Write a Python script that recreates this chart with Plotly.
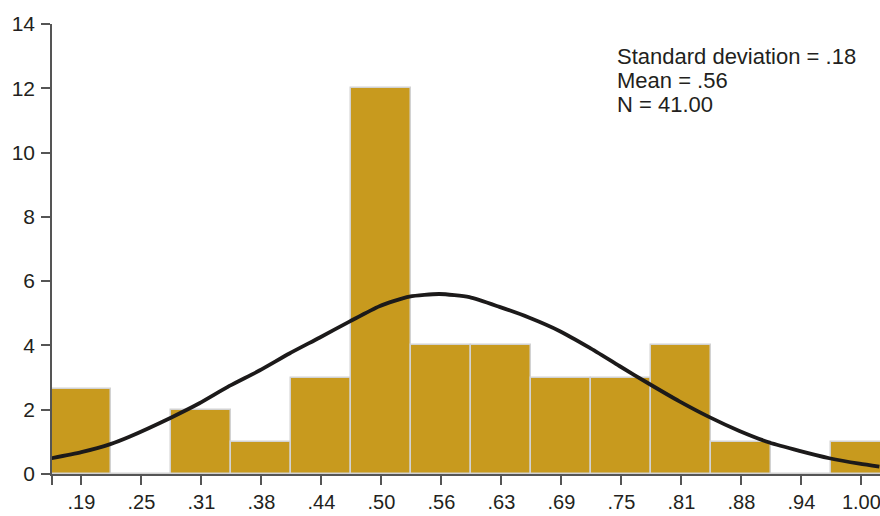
import plotly.graph_objects as go

# Histogram bins (tick labels) and counts
bin_labels = [".19", ".25", ".31", ".38", ".44", ".50", ".56", ".63", ".69", ".75", ".81", ".88", ".94", "1.00"]
counts = [2.66, 0, 2, 1, 3, 12, 4, 4, 3, 3, 4, 1, 0, 1]

# Fitted normal curve (x in bin-index units)
curve_x = [-0.5, 0.0, 0.483, 0.8, 1.5, 1.967, 2.467, 2.967, 3.467, 3.967, 4.467, 4.967,
           5.467, 5.967, 6.467, 6.967, 7.467, 7.967, 8.467, 8.967, 9.467, 9.967,
           10.467, 10.967, 11.467, 11.967, 12.467, 12.967, 13.3]
curve_y = [0.49, 0.68, 0.93, 1.16, 1.76, 2.2, 2.74, 3.22, 3.75, 4.24, 4.74, 5.22,
           5.52, 5.6, 5.5, 5.2, 4.86, 4.45, 3.93, 3.36, 2.8, 2.26,
           1.77, 1.34, 0.98, 0.72, 0.49, 0.32, 0.23]

stats_lines = ["Standard deviation = .18", "Mean = .56", "N = 41.00"]

y_ticks = [0, 2, 4, 6, 8, 10, 12, 14]

FONT = "Liberation Sans, Arial, Helvetica, sans-serif"
TXT = "#231f20"
AX = "#555555"

positions = list(range(len(bin_labels)))

fig = go.Figure()
fig.add_trace(go.Bar(
    x=positions, y=counts, width=1.0,
    marker=dict(color="#C89A1E", line=dict(color="#d2d2d2", width=1.5)),
    hoverinfo="skip", showlegend=False,
))
fig.add_trace(go.Scatter(
    x=curve_x, y=curve_y, mode="lines",
    line=dict(color="#1c1a1a", width=3.8, shape="spline", smoothing=0.6),
    hoverinfo="skip", showlegend=False, cliponaxis=True,
))

ann_y = [13.0, 12.25, 11.5]
for txt, yy in zip(stats_lines, ann_y):
    fig.add_annotation(x=8.917, y=yy, xref="x", yref="y", text=txt,
                       showarrow=False, xanchor="left", yanchor="middle",
                       borderpad=0,
                       font=dict(family=FONT, size=22, color=TXT))

fig.update_layout(
    width=880, height=516,
    margin=dict(l=52, r=0, t=24, b=42),
    paper_bgcolor="white", plot_bgcolor="white",
    bargap=0,
    font=dict(family=FONT, size=21, color=TXT),
    xaxis=dict(
        range=[-0.49, 13.31], automargin=False,
        tickvals=[-0.49] + positions, ticktext=[""] + bin_labels,
        ticks="outside", ticklen=9, tickwidth=1.5, tickcolor=AX,
        showline=True, linecolor=AX, linewidth=1.5,
        showgrid=False, zeroline=False, layer="above traces",
        ticklabeloverflow="allow",
        tickfont=dict(family=FONT, size=20, color=TXT),
    ),
    yaxis=dict(
        range=[0, 14], automargin=False,
        tickvals=y_ticks,
        ticks="outside", ticklen=9, tickwidth=1.5, tickcolor=AX,
        showline=True, linecolor=AX, linewidth=1.5,
        showgrid=False, zeroline=False, layer="above traces",
        tickfont=dict(family=FONT, size=21, color=TXT),
        ticklabelstandoff=2,
    ),
)

fig.write_html("out.html", config={"displayModeBar": False},
               post_script="document.body.style.margin='0';")
